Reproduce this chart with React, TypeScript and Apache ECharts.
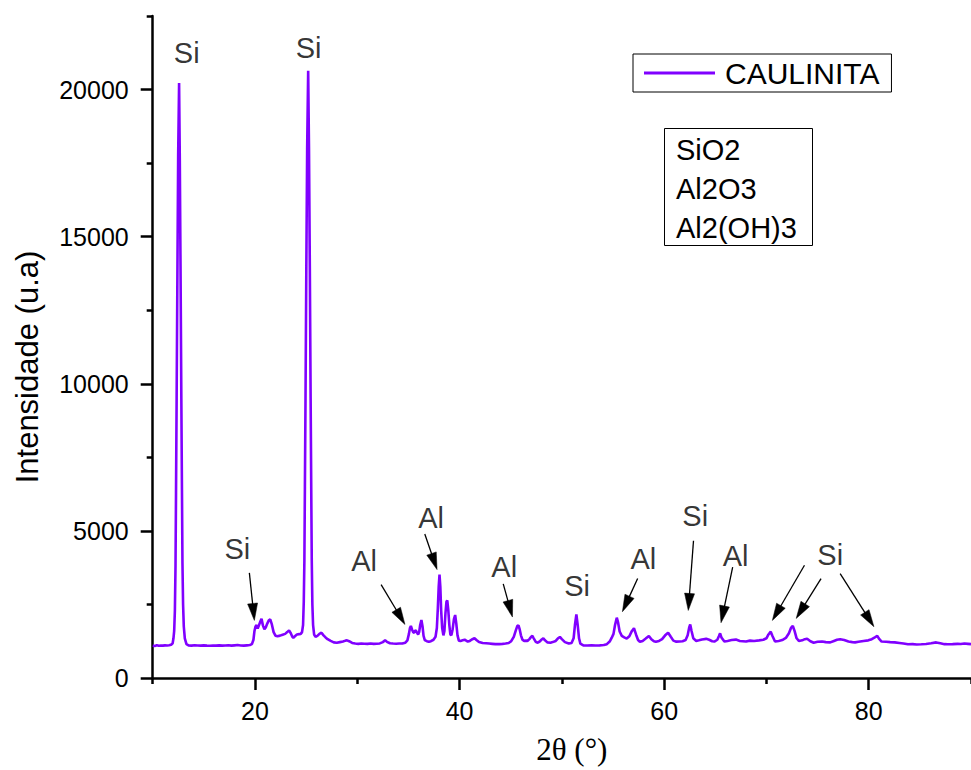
import React, { useEffect, useRef } from "react";
import * as echarts from "echarts";

const seriesName = "CAULINITA";
const lineColor = "#8000FF";

// [2θ (°), intensity (u.a)]
const pattern: [number, number][] = [
  [10.0, 1100], [10.2, 1090], [10.4, 1110], [10.6, 1095], [10.8, 1105], [11.0, 1100], [11.2, 1110], [11.4, 1105], [11.6, 1115], [11.8, 1130],
  [11.95, 1180], [12.03, 1350], [12.1, 1600], [12.17, 2300], [12.23, 3800], [12.28, 6300], [12.34, 9500], [12.42, 14000], [12.49, 17800], [12.58, 20220],
  [12.65, 17600], [12.72, 14000], [12.8, 9500], [12.86, 6400], [12.91, 3900], [12.97, 2500], [13.04, 1750], [13.14, 1350], [13.3, 1150],
  [13.5, 1110], [13.8, 1100], [14.1, 1115], [14.4, 1105], [14.7, 1100], [15.0, 1110], [15.3, 1100], [15.6, 1095], [15.9, 1105], [16.2, 1100],
  [16.5, 1110], [16.8, 1100], [17.1, 1105], [17.4, 1115], [17.7, 1100], [18.0, 1110], [18.3, 1120], [18.6, 1105], [18.9, 1100], [19.2, 1110],
  [19.5, 1120], [19.7, 1150], [19.85, 1300], [19.95, 1600], [20.05, 1750], [20.16, 1800], [20.26, 1680], [20.35, 1760], [20.5, 1900], [20.64, 2010],
  [20.78, 1780], [20.92, 1660], [21.05, 1720], [21.2, 1850], [21.35, 1960], [21.49, 1990], [21.65, 1820], [21.82, 1560], [22.0, 1440], [22.2, 1420],
  [22.45, 1440], [22.7, 1470], [22.95, 1500], [23.15, 1560], [23.33, 1620], [23.5, 1520], [23.65, 1400], [23.75, 1370], [23.9, 1420], [24.1, 1480],
  [24.3, 1490], [24.47, 1500], [24.6, 1560], [24.7, 1800], [24.77, 2600], [24.83, 4000], [24.88, 6500], [24.94, 9500], [25.02, 14000], [25.1, 18000],
  [25.2, 20640], [25.28, 18000], [25.36, 14000], [25.44, 9500], [25.5, 6400], [25.55, 4000], [25.61, 2500], [25.68, 1800], [25.78, 1480], [25.92, 1400],
  [26.1, 1430], [26.3, 1500], [26.5, 1540], [26.7, 1450], [26.9, 1380], [27.1, 1320], [27.4, 1260], [27.7, 1210], [28.0, 1200], [28.3, 1220],
  [28.6, 1240], [28.85, 1270], [29.0, 1280], [29.2, 1250], [29.5, 1190], [29.8, 1170], [30.1, 1160], [30.4, 1170], [30.7, 1165], [31.0, 1160],
  [31.3, 1170], [31.6, 1160], [31.9, 1165], [32.2, 1175], [32.5, 1220], [32.72, 1280], [32.9, 1230], [33.2, 1180], [33.5, 1170], [33.8, 1165],
  [34.1, 1170], [34.4, 1175], [34.7, 1200], [34.9, 1280], [35.05, 1500], [35.15, 1700], [35.24, 1770], [35.35, 1650], [35.48, 1550], [35.56, 1540],
  [35.65, 1600], [35.72, 1620], [35.82, 1550], [35.95, 1480], [36.05, 1560], [36.15, 1800], [36.27, 1970], [36.38, 1750], [36.48, 1430], [36.6, 1290],
  [36.8, 1250], [37.0, 1230], [37.2, 1250], [37.45, 1300], [37.65, 1400], [37.78, 1700], [37.88, 2400], [37.96, 3100], [38.04, 3515], [38.12, 3100],
  [38.2, 2300], [38.3, 1700], [38.42, 1450], [38.52, 1600], [38.62, 2200], [38.72, 2600], [38.8, 2635], [38.9, 2300], [39.0, 1800], [39.1, 1480],
  [39.2, 1450], [39.32, 1650], [39.45, 2000], [39.57, 2140], [39.68, 1850], [39.8, 1450], [39.93, 1270], [40.1, 1260], [40.3, 1280], [40.5, 1300],
  [40.65, 1270], [40.8, 1240], [41.0, 1260], [41.2, 1310], [41.46, 1350], [41.65, 1290], [41.9, 1220], [42.26, 1190], [42.6, 1180], [42.9, 1170],
  [43.2, 1160], [43.5, 1150], [43.88, 1150], [44.2, 1160], [44.5, 1170], [44.8, 1190], [45.05, 1250], [45.3, 1400], [45.5, 1620], [45.65, 1770],
  [45.76, 1790], [45.88, 1650], [46.0, 1450], [46.15, 1300], [46.31, 1260], [46.5, 1270], [46.63, 1260], [46.85, 1330], [47.0, 1400], [47.12, 1430],
  [47.25, 1350], [47.45, 1230], [47.6, 1200], [47.8, 1230], [48.0, 1300], [48.19, 1350], [48.35, 1280], [48.6, 1210], [48.89, 1200], [49.1, 1220],
  [49.4, 1260], [49.6, 1340], [49.81, 1395], [50.0, 1320], [50.3, 1220], [50.68, 1170], [50.95, 1190], [51.15, 1350], [51.28, 1800], [51.42, 2160],
  [51.55, 1800], [51.68, 1350], [51.81, 1170], [52.1, 1110], [52.5, 1105], [52.9, 1110], [53.3, 1105], [53.7, 1110], [54.1, 1120], [54.4, 1150],
  [54.7, 1250], [54.88, 1370], [55.05, 1500], [55.2, 1800], [55.37, 2050], [55.5, 1880], [55.65, 1580], [55.86, 1430], [56.1, 1380], [56.34, 1340],
  [56.6, 1420], [56.85, 1600], [57.05, 1690], [57.25, 1480], [57.45, 1290], [57.63, 1230], [57.9, 1260], [58.2, 1340], [58.51, 1430], [58.75, 1320],
  [59.0, 1250], [59.19, 1235], [59.5, 1260], [59.8, 1320], [60.1, 1450], [60.39, 1540], [60.65, 1400], [60.9, 1270], [61.19, 1235], [61.5, 1240],
  [61.8, 1250], [62.1, 1290], [62.3, 1450], [62.45, 1720], [62.55, 1820], [62.68, 1600], [62.85, 1350], [63.14, 1260], [63.4, 1280], [63.7, 1310],
  [64.11, 1330], [64.4, 1300], [64.7, 1250], [64.91, 1240], [65.2, 1300], [65.35, 1420], [65.47, 1520], [65.6, 1380], [65.89, 1240], [66.2, 1260],
  [66.6, 1290], [67.02, 1305], [67.4, 1260], [67.7, 1250], [68.0, 1240], [68.4, 1270], [68.8, 1260], [69.28, 1280], [69.7, 1300], [70.0, 1350],
  [70.2, 1480], [70.42, 1575], [70.6, 1420], [70.84, 1240], [71.2, 1260], [71.55, 1290], [71.9, 1360], [72.2, 1520], [72.4, 1700], [72.58, 1767],
  [72.75, 1600], [72.95, 1350], [73.17, 1260], [73.5, 1280], [73.75, 1320], [73.98, 1337], [74.3, 1250], [74.62, 1200], [75.0, 1230], [75.44, 1240],
  [75.8, 1220], [76.24, 1210], [76.6, 1260], [76.9, 1300], [77.21, 1315], [77.6, 1290], [78.02, 1240], [78.4, 1220], [78.67, 1210], [79.0, 1230],
  [79.5, 1260], [79.96, 1280], [80.3, 1320], [80.6, 1380], [80.84, 1430], [81.0, 1340], [81.26, 1240], [81.7, 1230], [82.1, 1220], [82.55, 1210],
  [83.0, 1190], [83.4, 1170], [83.84, 1145], [84.3, 1150], [84.7, 1140], [85.15, 1145], [85.6, 1155], [86.1, 1180], [86.6, 1210], [87.0, 1180],
  [87.4, 1150], [87.73, 1145], [88.2, 1150], [88.7, 1160], [89.0, 1155], [89.35, 1170], [89.7, 1160], [90.0, 1150],
];

const xMajorTicks = [20, 40, 60, 80];
const xMinorTicks = [10, 30, 50, 70, 90];
const yMajorTicks = [0, 5000, 10000, 15000, 20000];
const yMinorTicks = [2500, 7500, 12500, 17500, 22500];

const phaseLines = ["SiO2", "Al2O3", "Al2(OH)3"];

// peak annotations: label text and its centre in data coordinates
const peakLabelText = ["Si", "Si", "Si", "Al", "Al", "Al", "Si", "Al", "Si", "Al", "Si"];
const peakLabelX = [13.33, 25.24, 18.28, 30.66, 37.21, 44.37, 51.49, 57.96, 63.04, 66.99, 76.24];
const peakLabelY = [21247, 21416, 4385, 3979, 5435, 3775, 3132, 4046, 5519, 4148, 4165];

// arrows: [fromX, fromY, toX, toY] in data coordinates (to = arrow tip)
const arrowSegments: [number, number, number, number][] = [
  [19.45, 3572, 19.94, 1957],
  [32.33, 3176, 34.66, 1822],
  [36.6, 4893, 37.8, 3684],
  [44.27, 3200, 45.17, 2072],
  [57.41, 3379, 55.92, 2252],
  [62.87, 4666, 62.36, 2296],
  [66.7, 3765, 65.56, 1879],
  [73.72, 3833, 70.58, 1957],
  [75.34, 3379, 72.91, 2025],
  [77.21, 3548, 80.51, 1744],
];

const SANS = "'Liberation Sans', Arial, Helvetica, sans-serif";
const SERIF = "'Liberation Serif', 'Times New Roman', serif";

export default function App() {
  const ref = useRef<HTMLDivElement>(null);

  useEffect(() => {
    if (!ref.current) return;
    const chart = echarts.init(ref.current, undefined, { renderer: "svg" });

    const axisLineStyle = { color: "#000", width: 2.5 };
    const plain = (v: number) => String(v);

    const renderArrow = (_params: any, api: any) => {
      const p1 = api.coord([api.value(0), api.value(1)]);
      const p2 = api.coord([api.value(2), api.value(3)]);
      const dx = p2[0] - p1[0];
      const dy = p2[1] - p1[1];
      const len = Math.sqrt(dx * dx + dy * dy) || 1;
      const ux = dx / len;
      const uy = dy / len;
      const headLen = 17;
      const headHalf = 5;
      const bx = p2[0] - ux * headLen;
      const by = p2[1] - uy * headLen;
      return {
        type: "group",
        children: [
          {
            type: "line",
            shape: { x1: p1[0], y1: p1[1], x2: bx + ux * 2, y2: by + uy * 2 },
            style: { stroke: "#000", lineWidth: 1.3 },
          },
          {
            type: "polygon",
            shape: {
              points: [
                [p2[0], p2[1]],
                [bx - uy * headHalf, by + ux * headHalf],
                [bx + uy * headHalf, by - ux * headHalf],
              ],
            },
            style: { fill: "#000", stroke: "#000", lineWidth: 0.5 },
          },
        ],
      };
    };

    const option: any = {
      animation: false,
      backgroundColor: "#fff",
      grid: { left: 152.7, top: 16, right: -6, bottom: 89.5, containLabel: false },
      legend: {
        data: [seriesName],
        left: 633,
        top: 54,
        padding: [4, 12, 4, 11],
        borderColor: "#000",
        borderWidth: 1,
        borderRadius: 0,
        icon: "rect",
        itemWidth: 71,
        itemHeight: 3,
        selectedMode: false,
        textStyle: { fontSize: 30, color: "#000", fontFamily: SANS, padding: [0, 0, 0, 5] },
      },
      xAxis: [
        {
          type: "value",
          min: 10,
          max: 90,
          position: "bottom",
          axisLine: { show: true, lineStyle: axisLineStyle },
          axisTick: { show: true, customValues: xMajorTicks, length: 12, lineStyle: axisLineStyle },
          axisLabel: { customValues: xMajorTicks, formatter: plain, fontSize: 25, color: "#000", fontFamily: SANS, margin: 20 },
          splitLine: { show: false },
          name: "2θ (°)",
          nameLocation: "middle",
          nameGap: 56,
          nameTextStyle: { fontSize: 31, color: "#000", fontFamily: SERIF, padding: [0, 0, 0, 20] },
        },
        {
          type: "value",
          min: 10,
          max: 90,
          position: "bottom",
          axisLine: { show: false },
          axisTick: { show: true, customValues: xMinorTicks, length: 6, lineStyle: axisLineStyle },
          axisLabel: { show: false },
          splitLine: { show: false },
        },
      ],
      yAxis: [
        {
          type: "value",
          min: 0,
          max: 22500,
          position: "left",
          axisLine: { show: true, lineStyle: axisLineStyle },
          axisTick: { show: true, customValues: yMajorTicks, length: 12, lineStyle: axisLineStyle },
          axisLabel: { customValues: yMajorTicks, formatter: plain, fontSize: 25, color: "#000", fontFamily: SANS, margin: 24 },
          splitLine: { show: false },
          name: "Intensidade (u.a)",
          nameLocation: "middle",
          nameRotate: 90,
          nameGap: 110,
          nameTextStyle: { fontSize: 31, color: "#000", fontFamily: SANS, padding: [0, 40, 0, 0] },
        },
        {
          type: "value",
          min: 0,
          max: 22500,
          position: "left",
          axisLine: { show: false },
          axisTick: { show: true, customValues: yMinorTicks, length: 6, lineStyle: axisLineStyle },
          axisLabel: { show: false },
          splitLine: { show: false },
        },
      ],
      series: [
        {
          name: seriesName,
          type: "line",
          xAxisIndex: 0,
          yAxisIndex: 0,
          data: pattern,
          symbol: "none",
          showSymbol: false,
          smooth: false,
          lineStyle: { color: lineColor, width: 2.6 },
          itemStyle: { color: lineColor },
          emphasis: { disabled: true },
          z: 3,
        },
        {
          name: "arrows",
          type: "custom",
          xAxisIndex: 0,
          yAxisIndex: 0,
          silent: true,
          clip: false,
          data: arrowSegments,
          encode: { x: [0, 2], y: [1, 3] },
          renderItem: renderArrow,
          z: 4,
        },
        {
          name: "annotations",
          type: "scatter",
          xAxisIndex: 0,
          yAxisIndex: 0,
          silent: true,
          symbolSize: 1,
          itemStyle: { color: "rgba(0,0,0,0)" },
          data: peakLabelText.map((t, i) => ({ name: t, value: [peakLabelX[i], peakLabelY[i]] })),
          label: {
            show: true,
            position: "inside",
            formatter: "{b}",
            fontSize: 29,
            color: "#000",
            fontFamily: SANS,
          },
          z: 5,
        },
      ],
      graphic: [
        {
          type: "rect",
          shape: { x: 664.5, y: 128.5, width: 148, height: 117 },
          style: { fill: "none", stroke: "#000", lineWidth: 1 },
          silent: true,
        },
        {
          type: "text",
          x: 676,
          y: 130,
          style: {
            text: phaseLines.join("\n"),
            fontSize: 29,
            lineHeight: 39,
            fontFamily: SANS,
            fill: "#000",
            verticalAlign: "top",
            align: "left",
          },
          silent: true,
        },
      ],
    };

    chart.setOption(option);
    return () => chart.dispose();
  }, []);

  return (
    <div
      ref={ref}
      style={{ position: "absolute", left: 0, top: 0, width: 971, height: 770, background: "#fff" }}
    />
  );
}
